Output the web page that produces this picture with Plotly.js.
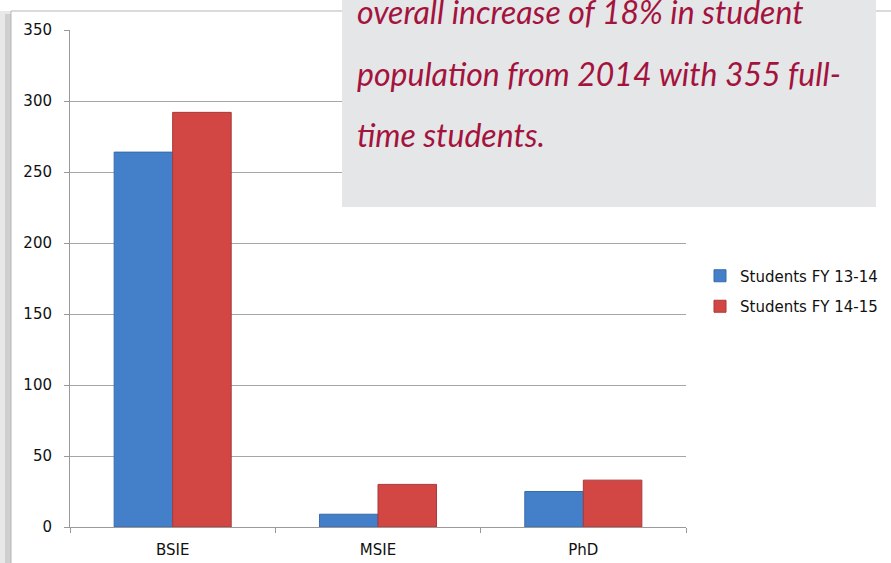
<!DOCTYPE html>
<html><head><meta charset="utf-8">
<script src="https://cdn.plot.ly/plotly-3.0.1.min.js"></script>
<style>html,body{margin:0;padding:0;background:#fff;}#chart{width:891px;height:563px;}</style>
</head><body><div id="chart"></div>
<script>
const categories = ["BSIE", "MSIE", "PhD"];
const seriesNames = ["Students FY 13-14", "Students FY 14-15"];
const fy1314 = [264, 9, 25];
const fy1415 = [292, 30, 33];
const yTicks = [0, 50, 100, 150, 200, 250, 300, 350];
const noteLines = ["overall increase of 18% in student", "population from 2014 with 355 full-", "time students."];

// pixel -> paper helpers (plot area: x 70..686, y 30..527)
const L = 70, R = 205, T = 30, B = 36, W = 891, H = 563;
const pw = W - L - R, ph = H - T - B;
const px = x => (x - L) / pw;
const py = y => 1 - (y - T) / ph;

const traces = [
  {type: "bar", name: seriesNames[0], x: categories, y: fy1314, legendgroup: "a",
   marker: {color: "#4480c9", line: {color: "#3a6aa8", width: 1}}},
  {type: "bar", name: seriesNames[1], x: categories, y: fy1415, legendgroup: "b",
   marker: {color: "#d24644", line: {color: "#a83a3a", width: 1}}}
];

const noteFont = {family: "Lato, Roboto, sans-serif", size: 32, color: "#a3133d", style: "italic"};
const baselines = [23, 84, 145];
const annotations = noteLines.map((t, i) => ({
  text: t, xref: "paper", yref: "paper", x: px(355), y: py(baselines[i] - 11),
  xanchor: "left", yanchor: "middle", showarrow: false, font: noteFont, align: "left"
}));

const layout = {
  width: W, height: H,
  margin: {l: L, r: R, t: T, b: B, autoexpand: false},
  paper_bgcolor: "#ffffff", plot_bgcolor: "#ffffff",
  barmode: "group", bargap: 0.43, bargroupgap: 0,
  showlegend: true,
  legend: {x: px(700), y: py(291), xanchor: "left", yanchor: "middle",
           font: {family: "DejaVu Sans, sans-serif", size: 15, color: "#111"},
           itemwidth: 30, bgcolor: "rgba(0,0,0,0)", tracegroupgap: 8},
  font: {family: "DejaVu Sans, sans-serif", size: 15, color: "#111"},
  xaxis: {type: "category", tickson: "boundaries", ticks: "outside", ticklen: 5,
          tickcolor: "#999", showline: true, linecolor: "#999", linewidth: 1,
          showgrid: false, ticklabelstandoff: 9, fixedrange: true},
  yaxis: {range: [0, 350], tickvals: yTicks, ticks: "outside", ticklen: 5,
          tickcolor: "#999", showline: true, linecolor: "#999", linewidth: 1,
          gridcolor: "#a6a6a6", gridwidth: 1, zeroline: false,
          ticklabelstandoff: 9, fixedrange: true},
  shapes: [
    {type: "rect", xref: "paper", yref: "paper", x0: px(0), x1: px(11), y0: py(600), y1: py(11),
     fillcolor: "#e8e8e8", line: {width: 0}, layer: "below"},
    {type: "rect", xref: "paper", yref: "paper", x0: px(5), x1: px(11), y0: py(600), y1: py(14),
     fillcolor: "#cfcfcf", line: {width: 0}, layer: "below"},
    {type: "rect", xref: "paper", yref: "paper", x0: px(11), x1: px(1000), y0: py(600), y1: py(11),
     fillcolor: "rgba(0,0,0,0)", line: {color: "#b5b5b5", width: 1}, layer: "below"},
    {type: "rect", xref: "paper", yref: "paper", x0: px(342), x1: px(876), y0: py(207), y1: py(-5),
     fillcolor: "#e5e6e8", line: {width: 0}, layer: "above"}
  ],
  annotations: annotations
};

Plotly.newPlot("chart", traces, layout, {displayModeBar: false, staticPlot: true});
</script></body></html>
